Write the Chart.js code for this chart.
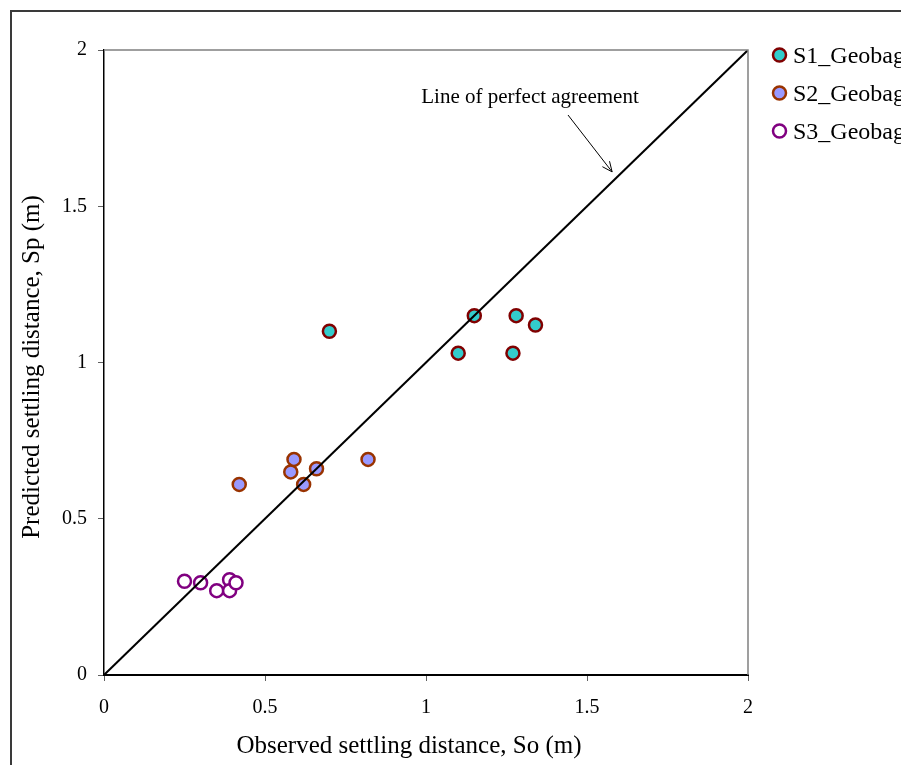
<!DOCTYPE html>
<html>
<head>
<meta charset="utf-8">
<script src="https://cdn.jsdelivr.net/npm/chart.js@4/dist/chart.umd.min.js"></script>
<style>
  html, body { margin: 0; padding: 0; background: #ffffff; }
  #wrap { width: 901px; height: 765px; position: relative; overflow: hidden; }
</style>
</head>
<body>
<div id="wrap"><canvas id="chart" width="901" height="765"></canvas></div>
<script>
// Series names and observed / predicted settling distances (m)
const seriesNames = ['S1_Geobag', 'S2_Geobag', 'S3_Geobag'];
const s1Observed  = [0.70, 1.15, 1.10, 1.28, 1.34, 1.27];
const s1Predicted = [1.10, 1.15, 1.03, 1.15, 1.12, 1.03];
const s2Observed  = [0.42, 0.58, 0.59, 0.62, 0.66, 0.82];
const s2Predicted = [0.61, 0.65, 0.69, 0.61, 0.66, 0.69];
const s3Observed  = [0.25, 0.30, 0.35, 0.39, 0.39, 0.41];
const s3Predicted = [0.30, 0.295, 0.27, 0.305, 0.27, 0.295];
// 1:1 reference line end points
const agreementLine = [0, 2];
// Axis range and tick step
const axisMin = 0, axisMax = 2, tickStep = 0.5;
// Annotation text and its arrow, in data units
const agreementLabel = 'Line of perfect agreement';
const labelAt = [1.323, 1.83];
const arrowFrom = [1.441, 1.792];
const arrowTo = [1.578, 1.610];

const FONT = '"Liberation Serif", "Times New Roman", serif';

const toPoints = (xs, ys) => xs.map((x, i) => ({ x: x, y: ys[i] }));

const styles = [
  { bg: '#33CCCC', border: '#800000' },
  { bg: '#9999FF', border: '#993300' },
  { bg: '#FFFFFF', border: '#800080' }
];

const MARK_R = 6.5, MARK_W = 2.5;

const decorations = {
  id: 'decorations',
  beforeDraw(chart) {
    const ctx = chart.ctx;
    ctx.save();
    ctx.fillStyle = '#ffffff';
    ctx.fillRect(0, 0, chart.width, chart.height);
    // outer frame
    ctx.strokeStyle = '#3a3a3a';
    ctx.lineWidth = 2;
    ctx.strokeRect(11, 11, chart.width + 20, chart.height + 20);
    ctx.restore();
  },
  afterDraw(chart) {
    const ctx = chart.ctx;
    const xs = chart.scales.x, ys = chart.scales.y;
    const a = chart.chartArea;
    ctx.save();
    // top and right plot borders
    ctx.strokeStyle = '#808080';
    ctx.lineWidth = 1.5;
    ctx.beginPath();
    ctx.moveTo(a.left, a.top);
    ctx.lineTo(a.right, a.top);
    ctx.lineTo(a.right, a.bottom);
    ctx.stroke();

    // axis titles
    ctx.fillStyle = '#000000';
    ctx.font = '25px ' + FONT;
    ctx.textAlign = 'center';
    ctx.textBaseline = 'alphabetic';
    ctx.fillText('Observed settling distance, So (m)', 409, 753);
    ctx.save();
    ctx.translate(39, 367);
    ctx.rotate(-Math.PI / 2);
    ctx.fillText('Predicted settling distance, Sp (m)', 0, 0);
    ctx.restore();

    // annotation
    ctx.font = '21px ' + FONT;
    ctx.fillText(agreementLabel, xs.getPixelForValue(labelAt[0]), ys.getPixelForValue(labelAt[1]));
    const x0 = xs.getPixelForValue(arrowFrom[0]), y0 = ys.getPixelForValue(arrowFrom[1]);
    const x1 = xs.getPixelForValue(arrowTo[0]), y1 = ys.getPixelForValue(arrowTo[1]);
    ctx.strokeStyle = '#000000';
    ctx.lineWidth = 1;
    ctx.beginPath();
    ctx.moveTo(x0, y0);
    ctx.lineTo(x1, y1);
    const ang = Math.atan2(y1 - y0, x1 - x0);
    const head = 11, spread = 0.42;
    ctx.moveTo(x1 - head * Math.cos(ang - spread), y1 - head * Math.sin(ang - spread));
    ctx.lineTo(x1, y1);
    ctx.lineTo(x1 - head * Math.cos(ang + spread), y1 - head * Math.sin(ang + spread));
    ctx.stroke();

    // legend
    ctx.font = '24px ' + FONT;
    ctx.textAlign = 'left';
    ctx.textBaseline = 'alphabetic';
    seriesNames.forEach((name, i) => {
      const cy = 55 + i * 38;
      ctx.beginPath();
      ctx.arc(779.5, cy, MARK_R, 0, Math.PI * 2);
      ctx.fillStyle = styles[i].bg;
      ctx.fill();
      ctx.lineWidth = MARK_W;
      ctx.strokeStyle = styles[i].border;
      ctx.stroke();
      ctx.fillStyle = '#000000';
      ctx.fillText(name, 793, cy + 8);
    });
    ctx.restore();
  }
};

const scatterSet = (label, pts, st) => ({
  type: 'scatter',
  label: label,
  data: pts,
  backgroundColor: st.bg,
  borderColor: st.border,
  pointBackgroundColor: st.bg,
  pointBorderColor: st.border,
  pointRadius: MARK_R,
  pointBorderWidth: MARK_W,
  pointHoverRadius: MARK_R,
  showLine: false,
  order: 1
});

const tickText = v => String(v);

new Chart(document.getElementById('chart'), {
  type: 'scatter',
  data: {
    datasets: [
      scatterSet(seriesNames[0], toPoints(s1Observed, s1Predicted), styles[0]),
      scatterSet(seriesNames[1], toPoints(s2Observed, s2Predicted), styles[1]),
      scatterSet(seriesNames[2], toPoints(s3Observed, s3Predicted), styles[2]),
      {
        type: 'line',
        label: 'Line of perfect agreement',
        data: toPoints(agreementLine, agreementLine),
        borderColor: '#000000',
        borderWidth: 2,
        pointRadius: 0,
        fill: false,
        tension: 0,
        order: 0
      }
    ]
  },
  options: {
    responsive: false,
    animation: false,
    devicePixelRatio: 1,
    layout: { padding: { left: 0, top: 50, right: 153, bottom: 0 } },
    plugins: {
      legend: { display: false },
      tooltip: { enabled: false },
      title: { display: false }
    },
    scales: {
      x: {
        type: 'linear',
        min: axisMin,
        max: axisMax,
        afterFit(s) { s.height = 90; },
        ticks: {
          stepSize: tickStep,
          callback: tickText,
          color: '#000000',
          font: { family: FONT, size: 20 },
          padding: 15
        },
        grid: { drawOnChartArea: false, drawTicks: true, tickLength: 6, color: '#606060', lineWidth: 1 },
        border: { display: true, color: '#000000', width: 2 }
      },
      y: {
        type: 'linear',
        min: axisMin,
        max: axisMax,
        afterFit(s) { s.width = 104; },
        ticks: {
          stepSize: tickStep,
          callback: tickText,
          color: '#000000',
          font: { family: FONT, size: 20 },
          padding: 11
        },
        grid: { drawOnChartArea: false, drawTicks: true, tickLength: 6, color: '#606060', lineWidth: 1 },
        border: { display: true, color: '#000000', width: 1.5 }
      }
    }
  },
  plugins: [decorations]
});
</script>
</body>
</html>
